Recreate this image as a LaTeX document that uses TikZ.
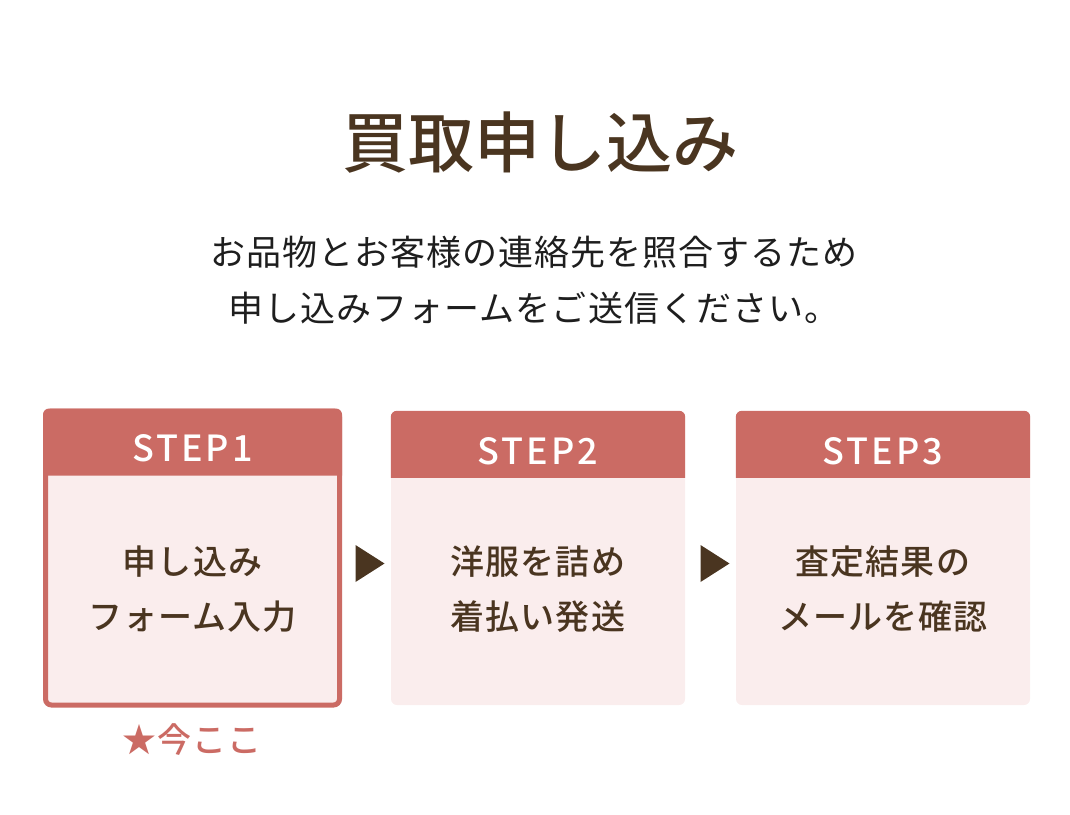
\documentclass[tikz,border=0pt]{standalone}
\usepackage{fontspec}
\setmainfont{Noto Sans CJK JP}
\newfontfamily\titlefont{Noto Sans CJK JP Medium}
\newfontfamily\stepfont[LetterSpace=8]{Noto Sans CJK JP Medium}
\newfontfamily\bodyfont[LetterSpace=3]{Noto Sans CJK JP Medium}
\newfontfamily\leadfont[LetterSpace=3]{Noto Sans CJK JP}
\usetikzlibrary{
  positioning,
  calc
}
\usepackage{xcolor}
\definecolor{brown}{HTML}{4A3520}
\definecolor{stepred}{HTML}{CB6B64}
\definecolor{pinkbg}{HTML}{FAEDED}
\definecolor{ink}{HTML}{1E1E1E}

\begin{document}
\begin{tikzpicture}[
  x=1pt, y=-1pt,
  stepbox/.style={rectangle, rounded corners=6, fill=pinkbg, minimum width=294, minimum height=294, inner sep=0},
  current/.style={draw=stepred, line width=5},
  steplbl/.style={text=white, font=\stepfont\fontsize{36}{36}\selectfont},
  body/.style={text=brown, align=center, font=\bodyfont\fontsize{34}{55}\selectfont},
]
  \useasboundingbox (0,0) rectangle (1070,814);

  % Heading
  \node[text=brown, font=\titlefont\fontsize{66}{66}\selectfont] (title) at (540,143) {買取申し込み};
  \node[text=ink, align=center, font=\leadfont\fontsize{35}{56}\selectfont] (lead) at (534,280)
    {お品物とお客様の連絡先を照合するため\\申し込みフォームをご送信ください。};

  % The three steps
  \node[stepbox, current] (s1) at (192.5,558) {};
  \node[stepbox] (s2) at (538,558) {};
  \node[stepbox] (s3) at (883,558) {};

  \foreach \s/\n in {s1/1,s2/2,s3/3} {
    \fill[stepred] ([yshift=-67]\s.north west) [rounded corners=6] -- (\s.north west)
      -- (\s.north east) [sharp corners] -- ([yshift=-67]\s.north east) -- cycle;
    \node[steplbl] (h\n) at ([yshift=-40]\s.north) {STEP\n};
  }

  \node[body] (t1) at ([yshift=-31]s1.center) {申し込み\\フォーム入力};
  \node[body] (t2) at ([yshift=-31]s2.center) {洋服を詰め\\着払い発送};
  \node[body] (t3) at ([yshift=-31]s3.center) {査定結果の\\メールを確認};

  % Arrows between steps
  \coordinate (a1) at (370,563.5);
  \coordinate (a2) at (715,563.5);
  \foreach \a in {a1,a2}
    \fill[brown] (\a) ++(-14.5,-18.5) -- ++(29,18.5) -- ++(-29,18.5) -- cycle;

  \node[text=stepred, font=\bodyfont\fontsize{34}{34}\selectfont] (here) at (192.5,740) {★今ここ};
\end{tikzpicture}
\end{document}
